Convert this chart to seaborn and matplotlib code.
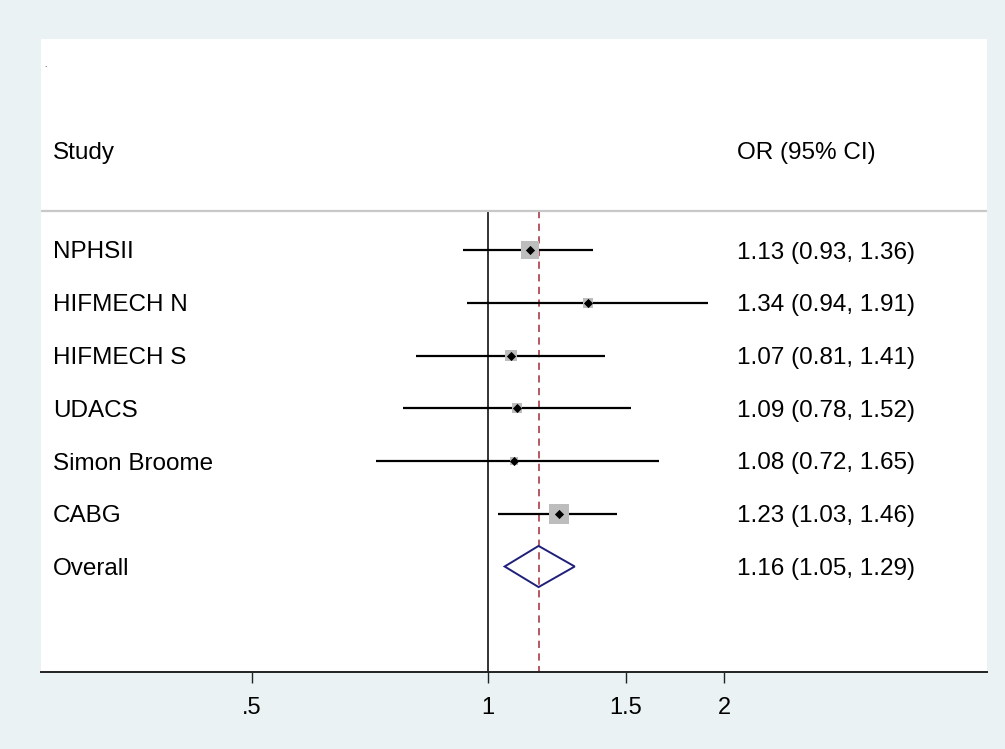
import numpy as np
import matplotlib
matplotlib.use("Agg")
import matplotlib.pyplot as plt
import seaborn as sns
from matplotlib.patches import Polygon

# study data
studies = ["NPHSII", "HIFMECH N", "HIFMECH S", "UDACS", "Simon Broome", "CABG"]
odds = [1.13, 1.34, 1.07, 1.09, 1.08, 1.23]
lower = [0.93, 0.94, 0.81, 0.78, 0.72, 1.03]
upper = [1.36, 1.91, 1.41, 1.52, 1.65, 1.46]
weights = [28.6, 8.8, 12.7, 8.8, 5.7, 35.3]

overall_or = 1.16
overall_lo = 1.05
overall_hi = 1.29

tick_vals = [0.5, 1, 1.5, 2]
tick_labels = [".5", "1", "1.5", "2"]

sns.set_style("white")
plt.rcParams['font.family'] = ['Liberation Sans', 'DejaVu Sans']
plt.rcParams['text.color'] = 'black'
plt.rcParams['xtick.color'] = 'black'

fig = plt.figure(figsize=(10.05, 7.49), dpi=100)
fig.patch.set_facecolor("#EAF2F3")
ax = fig.add_axes([41 / 1005, 77 / 749, 946 / 1005, 633 / 749])
ax.set_facecolor("white")

ax.set_xscale("log")
ax.set_xlim(0.269, 4.33)
ax.set_ylim(8.0, -4.0)

rows = np.arange(len(studies))
line_top = -0.74

# reference lines
ax.plot([1, 1], [line_top, 8.0], color="#333333", lw=1.4, zorder=1)
ax.plot([overall_or, overall_or], [line_top, 8.0], color="#B04A55", lw=1.3,
        ls=(0, (4, 3)), zorder=1)
ax.axhline(line_top, color="#C8C8C8", lw=1.6, zorder=1)

# confidence intervals
ax.hlines(rows, lower, upper, color="black", lw=1.6, zorder=2)

# weighted boxes
sns.scatterplot(x=odds, y=rows, size=weights, sizes=(min(weights) * 5.87, max(weights) * 5.87),
                marker="s", color="#BDBDBD", edgecolor="none", legend=False, ax=ax, zorder=3)
# point estimates
ax.scatter(odds, rows, marker="D", s=22, color="black", zorder=4, linewidths=0)

# overall diamond
yo = len(studies)
dia = Polygon([[overall_lo, yo], [overall_or, yo - 0.39], [overall_hi, yo], [overall_or, yo + 0.39]],
              closed=True, fill=False, edgecolor="#1F1F7A", lw=1.4, zorder=4)
ax.add_patch(dia)

# text columns
fs = 17.5
tr = ax.get_yaxis_transform()
lab_x = (53 - 41) / 946
ci_x = (737 - 41) / 946
va = "center_baseline"
ax.text(lab_x, -1.89, "Study", transform=tr, ha="left", va=va, fontsize=fs)
ax.text(ci_x, -1.89, "OR (95% CI)", transform=tr, ha="left", va=va, fontsize=fs)
for i, name in enumerate(studies):
    ax.text(lab_x, i, name, transform=tr, ha="left", va=va, fontsize=fs)
    ax.text(ci_x, i, f"{odds[i]:.2f} ({lower[i]:.2f}, {upper[i]:.2f})", transform=tr,
            ha="left", va=va, fontsize=fs)
ax.text(lab_x, yo, "Overall", transform=tr, ha="left", va=va, fontsize=fs)
ax.text(ci_x, yo, f"{overall_or:.2f} ({overall_lo:.2f}, {overall_hi:.2f})", transform=tr,
        ha="left", va=va, fontsize=fs)
ax.text(0.003, -3.5, ".", transform=tr, ha="left", va="center", fontsize=6)

# axes styling
for side in ["top", "right", "left"]:
    ax.spines[side].set_visible(False)
ax.spines["bottom"].set_color("#222222")
ax.spines["bottom"].set_linewidth(1.4)
ax.set_yticks([])
ax.set_xticks(tick_vals)
ax.set_xticklabels(tick_labels)
ax.xaxis.set_minor_locator(matplotlib.ticker.NullLocator())
ax.tick_params(axis="x", which="major", bottom=True, length=8, width=1, color="#222222",
               labelcolor="black", labelsize=17, pad=10)
ax.set_xlabel("")
ax.set_ylabel("")

fig.savefig("out.png", dpi=100, facecolor=fig.get_facecolor())
